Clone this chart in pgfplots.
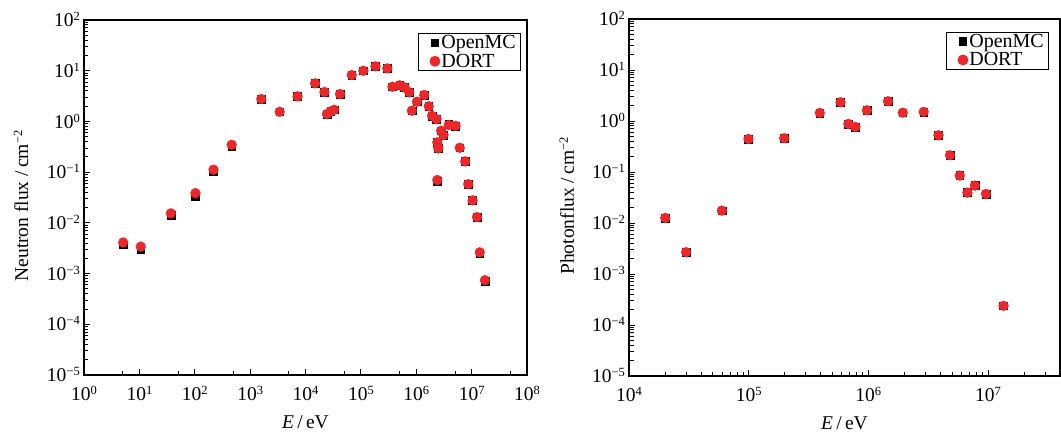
\documentclass[border=0pt]{standalone}
\usepackage{fontspec}
\setmainfont{Liberation Serif}
\usepackage{pgfplots}
\pgfplotsset{compat=1.18}

\definecolor{dortred}{RGB}{236,39,41}
\newcommand{\F}{\fontsize{19.5pt}{23pt}\selectfont}
% 10 with a small raised exponent, as in the reference
\newcommand{\p}[1]{10\raisebox{6pt}{\fontsize{12.5pt}{13pt}\selectfont #1}}

\pgfplotsset{
  fluxaxis/.style={
    scale only axis,
    ymin=1e-5, ymax=1e2,
    ytick={1e-5,1e-4,1e-3,1e-2,1e-1,1,1e1,1e2},
    yticklabels={\p{−5},\p{−4},\p{−3},\p{−2},\p{−1},\p{0},\p{1},\p{2}},
    minor ytick={2e-5,3e-5,4e-5,5e-5,6e-5,7e-5,8e-5,9e-5,
                 2e-4,3e-4,4e-4,5e-4,6e-4,7e-4,8e-4,9e-4,
                 2e-3,3e-3,4e-3,5e-3,6e-3,7e-3,8e-3,9e-3,
                 2e-2,3e-2,4e-2,5e-2,6e-2,7e-2,8e-2,9e-2,
                 0.2,0.3,0.4,0.5,0.6,0.7,0.8,0.9,
                 2,3,4,5,6,7,8,9,
                 20,30,40,50,60,70,80,90},
    tick pos=left,
    tick align=inside,
    major tick length=6pt,
    minor tick length=4.5pt,
    every tick/.style={black, line width=0.9pt},
    axis line style={line width=1.2pt},
    tick label style={font=\F},
    label style={font=\F},
    xticklabel style={anchor=base, inner sep=0pt, yshift=-25pt},
    yticklabel style={anchor=base east, inner sep=0pt, xshift=-4pt, yshift=-6.6pt},
    legend style={draw=black, line width=1pt,
      font=\fontsize{20pt}{23pt}\selectfont,
      inner xsep=3pt, inner ysep=1.5pt, row sep=2.5pt,
      nodes={inner xsep=1.5pt, inner ysep=0.5pt},
      /tikz/every odd column/.style={column sep=0pt}},
    legend cell align=left,
    legend image code/.code={%
      \path (-13pt,0pt) (0pt,0pt);
      \draw[##1] plot coordinates {(0pt,0pt)};},
  },
  openmc/.style={only marks, mark=square*, mark size=3.9pt, black},
  dort/.style={only marks, mark=*, mark size=4.9pt, dortred, mark options={draw=dortred, fill=dortred}},
}

\begin{document}
\begin{tikzpicture}[x=1pt, y=1pt]

% ---------------- neutron flux ----------------
\begin{loglogaxis}[
  fluxaxis,
  at={(84pt,57pt)}, anchor=south west,
  width=443pt, height=355pt,
  xmin=1, xmax=1e8,
  xtick={1,1e1,1e2,1e3,1e4,1e5,1e6,1e7,1e8},
  xticklabels={\p{0},\p{1},\p{2},\p{3},\p{4},\p{5},\p{6},\p{7},\p{8}},
  minor xtick={5,50,500,5e3,5e4,5e5,5e6,5e7},
  xlabel={\textit{E}\,/\,eV},
  ylabel={Neutron flux /\,cm\raisebox{6pt}{\fontsize{12.5pt}{13pt}\selectfont −2}},
  xlabel style={at={(axis description cs:0.5,-0.152)}, anchor=base, inner sep=0pt},
  ylabel style={at={(axis description cs:-0.126,0.476)}, anchor=base, inner sep=0pt},
  legend style={at={(axis description cs:0.986,0.963)}, anchor=north east},
]
\addplot[openmc] coordinates {
  (5.1,3.7e-3) (10.6,3.0e-3) (37,0.0140) (103,0.034) (218,0.102) (464,0.32)
  (1590,2.77) (3410,1.55) (7190,3.13) (14900,5.64) (22000,3.8) (24400,1.40)
  (28500,1.58) (32900,1.70) (42000,3.47) (68400,8.2) (111000,10.0)
  (184000,12.2) (300000,11.1) (372000,4.83) (502000,5.15) (615000,4.7)
  (750000,3.75) (832000,1.63) (1.03e6,2.45) (1.39e6,3.32) (1.68e6,1.99)
  (1.93e6,1.29) (2.33e6,1.11) (2.4e6,0.387) (2.5e6,0.294) (2.4e6,0.066)
  (2.81e6,0.656) (3.1e6,0.54) (3.85e6,0.88) (5.13e6,0.82) (6.1e6,0.303)
  (7.66e6,0.163) (8.7e6,0.058) (1.04e7,0.0278) (1.25e7,0.013)
  (1.4e7,2.5e-3) (1.74e7,7.0e-4)
};
\addlegendentry{OpenMC}
\addplot[dort] coordinates {
  (5.1,4.1e-3) (10.6,3.4e-3) (37,0.0154) (103,0.0387) (218,0.112) (464,0.347)
  (1590,2.77) (3410,1.55) (7190,3.13) (14900,5.64) (22000,3.8) (24400,1.40)
  (28500,1.58) (32900,1.70) (42000,3.47) (68400,8.2) (111000,10.0)
  (184000,12.2) (300000,11.1) (372000,4.83) (502000,5.15) (615000,4.7)
  (750000,3.75) (832000,1.63) (1.03e6,2.45) (1.39e6,3.32) (1.68e6,1.99)
  (1.93e6,1.29) (2.33e6,1.11) (2.4e6,0.387) (2.5e6,0.294) (2.4e6,0.070)
  (2.81e6,0.656) (3.1e6,0.54) (3.85e6,0.85) (5.13e6,0.82) (6.1e6,0.303)
  (7.66e6,0.163) (8.7e6,0.058) (1.04e7,0.0278) (1.25e7,0.013)
  (1.4e7,2.62e-3) (1.74e7,7.4e-4)
};
\addlegendentry{DORT}
\end{loglogaxis}

% ---------------- photon flux ----------------
\begin{loglogaxis}[
  fluxaxis,
  at={(629pt,56pt)}, anchor=south west,
  width=431pt, height=357pt,
  xmin=1e4, xmax=4e7,
  xtick={1e4,1e5,1e6,1e7},
  xticklabels={\p{4},\p{5},\p{6},\p{7}},
  minor xtick={2e4,3e4,4e4,5e4,6e4,7e4,8e4,9e4,
               2e5,3e5,4e5,5e5,6e5,7e5,8e5,9e5,
               2e6,3e6,4e6,5e6,6e6,7e6,8e6,9e6,
               2e7,3e7},
  xlabel={\textit{E}\,/\,eV},
  ylabel={Photonflux /\,cm\raisebox{6pt}{\fontsize{12.5pt}{13pt}\selectfont −2}},
  xlabel style={at={(axis description cs:0.5,-0.151)}, anchor=base, inner sep=0pt},
  ylabel style={at={(axis description cs:-0.128,0.476)}, anchor=base, inner sep=0pt},
  legend style={at={(axis description cs:0.974,0.964)}, anchor=north east},
]
\addplot[openmc] coordinates {
  (2.01e4,0.0126) (3.0e4,0.00268) (5.97e4,0.0175) (9.96e4,0.445)
  (1.98e5,0.459) (3.93e5,1.44) (5.86e5,2.33) (6.81e5,0.877) (7.8e5,0.766)
  (9.73e5,1.62) (1.46e6,2.44) (1.94e6,1.46) (2.90e6,1.51) (3.86e6,0.525)
  (4.81e6,0.213) (5.81e6,0.0851) (6.74e6,0.0395) (7.77e6,0.0542)
  (9.62e6,0.0372) (1.35e7,2.38e-4)
};
\addlegendentry{OpenMC}
\addplot[dort] coordinates {
  (2.01e4,0.0126) (3.0e4,0.00268) (5.97e4,0.0175) (9.96e4,0.445)
  (1.98e5,0.459) (3.93e5,1.44) (5.86e5,2.33) (6.81e5,0.877) (7.8e5,0.766)
  (9.73e5,1.62) (1.46e6,2.44) (1.94e6,1.46) (2.90e6,1.51) (3.86e6,0.525)
  (4.81e6,0.213) (5.81e6,0.0851) (6.74e6,0.0395) (7.77e6,0.0542)
  (9.62e6,0.0372) (1.35e7,2.38e-4)
};
\addlegendentry{DORT}
\end{loglogaxis}

\pgfresetboundingbox
\path[use as bounding box] (0,0) rectangle (1061,432);
\end{tikzpicture}
\end{document}
